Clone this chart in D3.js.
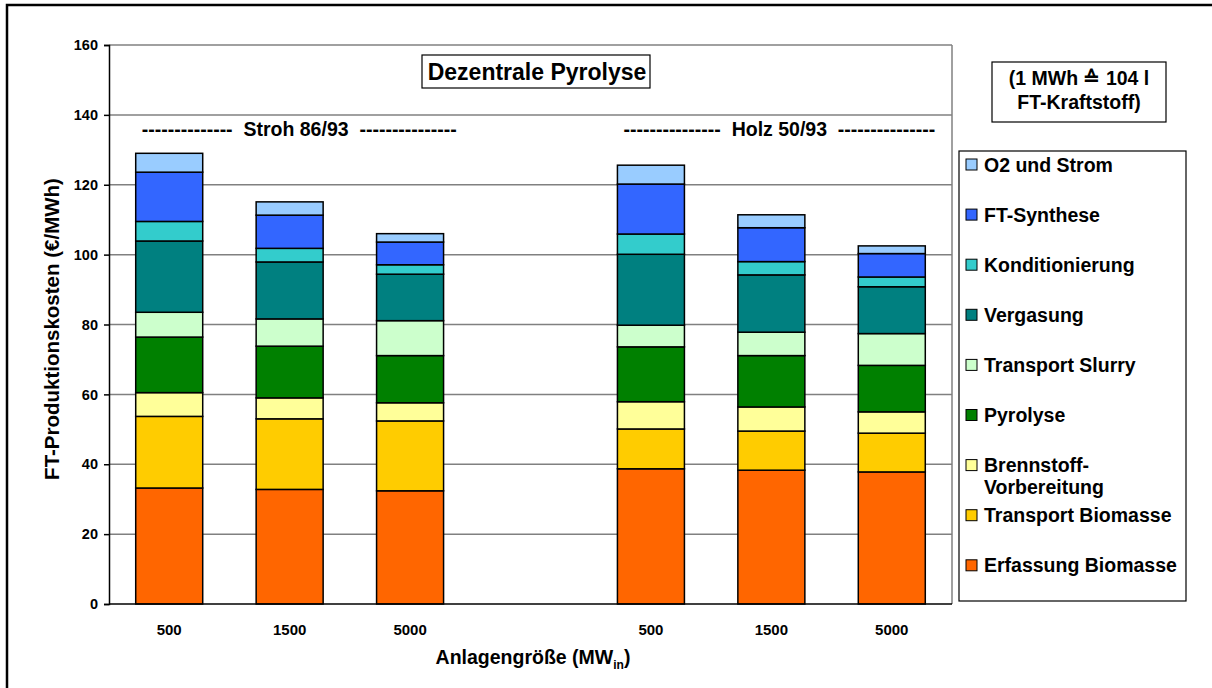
<!DOCTYPE html>
<html>
<head>
<meta charset="utf-8">
<script src="https://cdn.jsdelivr.net/npm/d3@7"></script>
<style>
    body { margin: 0; background: #fff; }
    svg text { font-family: "Liberation Sans", Arial, sans-serif; font-weight: bold; fill: #000; }
</style>
</head>
<body>
<svg id="chart" width="1212" height="688"></svg>
<script>
// categories
const sizes = ["500", "1500", "5000"];
const feedstocks = ["Stroh 86/93", "Holz 50/93"];

// series, bottom to top of each stack
const seriesNames = [
    "Erfassung Biomasse", "Transport Biomasse", "Brennstoff-Vorbereitung", "Pyrolyse",
    "Transport Slurry", "Vergasung", "Konditionierung", "FT-Synthese", "O2 und Strom"
];
const seriesColors = [
    "#FF6600", "#FFCC00", "#FFFF99", "#008000",
    "#CCFFCC", "#008080", "#33CCCC", "#3366FF", "#99CCFF"
];

// values (€/MWh): Stroh 500, 1500, 5000, Holz 500, 1500, 5000
const erfassung       = [33.2, 32.8, 32.4, 38.7, 38.3, 37.8];
const transportBiom   = [20.5, 20.2, 20.0, 11.4, 11.2, 11.1];
const brennstoff      = [6.8, 6.0, 5.2, 7.8, 6.9, 6.1];
const pyrolyse        = [15.9, 14.8, 13.5, 15.7, 14.7, 13.3];
const transportSlurry = [7.1, 7.8, 10.0, 6.2, 6.7, 9.1];
const vergasung       = [20.4, 16.3, 13.3, 20.3, 16.4, 13.4];
const konditionierung = [5.6, 3.9, 2.7, 5.8, 3.8, 2.8];
const ftSynthese      = [14.1, 9.5, 6.5, 14.3, 9.7, 6.7];
const o2Strom         = [5.4, 3.8, 2.4, 5.4, 3.7, 2.2];

const yTicks = [0, 20, 40, 60, 80, 100, 120, 140, 160];

const seriesValues = [erfassung, transportBiom, brennstoff, pyrolyse,
    transportSlurry, vergasung, konditionierung, ftSynthese, o2Strom];

// one slot per bar, with an empty slot between the two feedstocks
const slots = [];
feedstocks.forEach((f, fi) => {
    if (fi > 0) slots.push({ id: "gap", label: "" });
    sizes.forEach(s => slots.push({ id: f + "-" + s, label: s, feed: fi }));
});

const rows = [];
feedstocks.forEach((f, fi) => {
    sizes.forEach((s, si) => {
        const row = { id: f + "-" + s };
        seriesNames.forEach((n, k) => { row[n] = seriesValues[k][fi * sizes.length + si]; });
        rows.push(row);
    });
});

const svg = d3.select("#chart");

// outer frame (only top/left visible)
svg.append("rect")
    .attr("x", 7).attr("y", 5)
    .attr("width", 1230).attr("height", 710)
    .attr("fill", "none")
    .attr("stroke", "#000")
    .attr("stroke-width", 2.5);

const plotLeft = 109, plotRight = 952, plotTop = 45, plotBottom = 604;

const x = d3.scaleBand()
    .domain(slots.map(d => d.id))
    .range([plotLeft, plotRight])
    .padding(0);

const y = d3.scaleLinear()
    .domain([0, 160])
    .range([plotBottom, plotTop]);

const barWidth = 67;
const barX = id => x(id) + (x.bandwidth() - barWidth) / 2;

// gridlines
svg.append("g")
    .selectAll("line")
    .data(yTicks.filter(t => t > 0))
    .join("line")
    .attr("x1", plotLeft).attr("x2", plotRight)
    .attr("y1", d => y(d)).attr("y2", d => y(d))
    .attr("stroke", "#808080")
    .attr("stroke-width", 1.5);

// plot area right border
svg.append("line")
    .attr("x1", plotRight).attr("x2", plotRight)
    .attr("y1", plotTop).attr("y2", plotBottom)
    .attr("stroke", "#808080")
    .attr("stroke-width", 1.5);

// stacked bars
const stack = d3.stack().keys(seriesNames);
const stacked = stack(rows);

svg.append("g")
    .selectAll("g")
    .data(stacked)
    .join("g")
    .attr("fill", (d, i) => seriesColors[i])
    .selectAll("rect")
    .data(d => d)
    .join("rect")
    .attr("x", d => barX(d.data.id))
    .attr("width", barWidth)
    .attr("y", d => y(d[1]))
    .attr("height", d => y(d[0]) - y(d[1]))
    .attr("stroke", "#000")
    .attr("stroke-width", 1.5);

// axes
const yAxis = d3.axisLeft(y).tickValues(yTicks).tickSize(5).tickPadding(6);
const gy = svg.append("g")
    .attr("transform", `translate(${plotLeft},0)`)
    .call(yAxis);
gy.select(".domain").attr("stroke", "#000").attr("stroke-width", 1.5);
gy.selectAll(".tick line").attr("stroke", "#000").attr("stroke-width", 1.5);
gy.selectAll(".tick text")
    .style("font-size", "14.5px")
    .attr("fill", "#000");

svg.append("line")
    .attr("x1", plotLeft).attr("x2", plotRight)
    .attr("y1", plotBottom).attr("y2", plotBottom)
    .attr("stroke", "#000")
    .attr("stroke-width", 1.5);

// x tick labels
svg.append("g")
    .selectAll("text")
    .data(slots.filter(d => d.label))
    .join("text")
    .attr("x", d => x(d.id) + x.bandwidth() / 2)
    .attr("y", 635)
    .attr("text-anchor", "middle")
    .style("font-size", "15px")
    .text(d => d.label);

// axis titles
svg.append("text")
    .attr("transform", "translate(59,329) rotate(-90)")
    .attr("text-anchor", "middle")
    .style("font-size", "20.5px")
    .text("FT-Produktionskosten (€/MWh)");

const xt = svg.append("text")
    .attr("x", 533)
    .attr("y", 664)
    .attr("text-anchor", "middle")
    .style("font-size", "19.5px");
xt.append("tspan").text("Anlagengröße (MW");
xt.append("tspan").attr("dy", 5).style("font-size", "12px").text("in");
xt.append("tspan").attr("dy", -5).text(")");

// feedstock group labels, starting just right of each group's first bar edge
const dashesL = ["--------------", "---------------"];
const dashesR = ["---------------", "---------------"];
svg.append("g")
    .selectAll("text")
    .data(feedstocks)
    .join("text")
    .attr("x", (d, i) => barX(d + "-" + sizes[0]) + 6)
    .attr("y", 136)
    .attr("text-anchor", "start")
    .style("font-size", "19.5px")
    .style("white-space", "pre")
    .text((d, i) => `${dashesL[i]}  ${d}  ${dashesR[i]}`);

// title box
svg.append("rect")
    .attr("x", 422).attr("y", 55)
    .attr("width", 228).attr("height", 33)
    .attr("fill", "#fff")
    .attr("stroke", "#000")
    .attr("stroke-width", 1.2);
svg.append("text")
    .attr("x", 537).attr("y", 80)
    .attr("text-anchor", "middle")
    .style("font-size", "23px")
    .text("Dezentrale Pyrolyse");

// unit note box
svg.append("rect")
    .attr("x", 992).attr("y", 62)
    .attr("width", 174).attr("height", 60)
    .attr("fill", "#fff")
    .attr("stroke", "#000")
    .attr("stroke-width", 1.2);
svg.append("text")
    .attr("x", 1079).attr("y", 85)
    .attr("text-anchor", "middle")
    .style("font-size", "19.5px")
    .text("(1 MWh ≙ 104 l");
svg.append("text")
    .attr("x", 1079).attr("y", 109)
    .attr("text-anchor", "middle")
    .style("font-size", "19.5px")
    .text("FT-Kraftstoff)");

// legend
svg.append("rect")
    .attr("x", 959).attr("y", 151)
    .attr("width", 227).attr("height", 450)
    .attr("fill", "#fff")
    .attr("stroke", "#000")
    .attr("stroke-width", 1.2);

const legendItems = seriesNames.map((n, i) => ({ name: n, color: seriesColors[i] })).reverse();
const legend = svg.append("g")
    .selectAll("g")
    .data(legendItems)
    .join("g")
    .attr("transform", (d, i) => `translate(966,${165 + i * 50.1})`);

legend.append("rect")
    .attr("x", 0).attr("y", -6)
    .attr("width", 11).attr("height", 11)
    .attr("fill", d => d.color)
    .attr("stroke", "#000")
    .attr("stroke-width", 1);

legend.append("text")
    .attr("x", 18)
    .attr("y", 6.5)
    .style("font-size", "19.5px")
    .each(function(d) {
        const t = d3.select(this);
        if (d.name === "Brennstoff-Vorbereitung") {
            t.append("tspan").attr("x", 18).text("Brennstoff-");
            t.append("tspan").attr("x", 18).attr("dy", 22).text("Vorbereitung");
        } else {
            t.text(d.name);
        }
    });
</script>
</body>
</html>
